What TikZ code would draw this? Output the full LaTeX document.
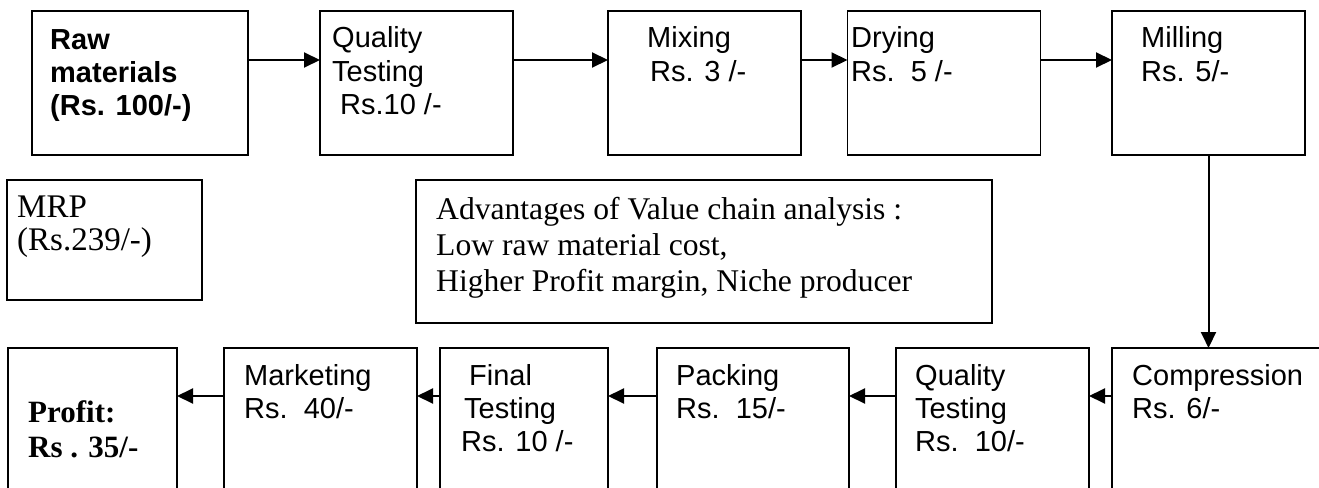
\documentclass[tikz,border=0pt]{standalone}
\usepackage{fontspec}
\setmainfont{Liberation Serif}
\setsansfont{Liberation Sans}
\usetikzlibrary{arrows.meta}
\newcommand{\lns}[1]{\begin{tabular}[t]{@{}l@{}}#1\end{tabular}}
\tikzset{
  box/.style={draw=black, line width=1.6pt, rectangle, inner sep=0pt, outer sep=0pt},
  flow/.style={line width=2pt, -{Triangle[length=16pt,width=15pt]}},
  atxt/.style={anchor=base west, inner sep=0pt, font=\sffamily\fontsize{29}{33.3}\selectfont},
  btxt/.style={anchor=base west, inner sep=0pt, font=\sffamily\bfseries\fontsize{29}{33.3}\selectfont},
  stxt/.style={anchor=base west, inner sep=0pt, font=\fontsize{31.6}{36.4}\selectfont},
}
\begin{document}
\begin{tikzpicture}[x=1pt, y=-1pt]
\useasboundingbox (0,0) rectangle (1319,487);
\clip (0,0) rectangle (1319,487);
% top row
\node[box, minimum width=216pt, minimum height=144pt] (raw)  at (140,83) {};
\node[box, minimum width=193pt, minimum height=144pt] (qt1)  at (416.5,83) {};
\node[box, minimum width=193pt, minimum height=144pt] (mix)  at (704.5,83) {};
\node[box, minimum width=193pt, minimum height=144pt] (dry)  at (944,83) {};
\node[box, minimum width=193pt, minimum height=144pt] (mill) at (1208.5,83) {};
% middle
\node[box, minimum width=195pt, minimum height=120pt] (mrp) at (104.5,240) {};
\node[box, minimum width=576pt, minimum height=143pt] (adv) at (704,251.5) {};
% bottom row
\node[box, minimum width=169pt, minimum height=192pt] (profit) at (92.5,444) {};
\node[box, minimum width=193pt, minimum height=192pt] (mkt)    at (320.5,444) {};
\node[box, minimum width=168pt, minimum height=192pt] (final)  at (524,444) {};
\node[box, minimum width=192pt, minimum height=192pt] (pack)   at (753,444) {};
\node[box, minimum width=193pt, minimum height=192pt] (qt2)    at (992.5,444) {};
\node[box, minimum width=248pt, minimum height=192pt] (comp)   at (1236,444) {};
% texts
\node[btxt] (traw) at (50,49) {\lns{Raw\\materials\\(Rs. 100/-)}};
\node[atxt] (tqt1) at (332,48) {\lns{Quality\\Testing\\\hspace{8pt}Rs.10 /-}};
\node[atxt] (tmix) at (647,48) {\lns{Mixing\\\hspace{3pt}Rs. 3 /-}};
\node[atxt] (tdry) at (851,48) {\lns{Drying\\Rs.\ \ 5 /-}};
\node[atxt] (tmill) at (1141,48) {\lns{Milling\\Rs. 5/-}};
\node[stxt, font=\fontsize{33}{33}\selectfont] (tmrp) at (17,217) {\lns{MRP\\(Rs.239/-)}};
\node[stxt] (tadv) at (436,219)
  {\lns{Advantages of Value chain analysis :\\Low raw material cost,\\Higher Profit margin, Niche producer}};
\node[stxt, font=\bfseries\fontsize{31}{35}\selectfont] (tprofit) at (28,422)
  {\lns{Profit:\\Rs . 35/-}};
\node[atxt] (tmkt) at (244,385) {\lns{Marketing\\Rs.\ \ 40/-}};
\node[atxt] (tfinal) at (461,385) {\lns{\hspace{8pt}Final\\\hspace{3pt}Testing\\Rs. 10 /-}};
\node[atxt] (tpack) at (676,385) {\lns{Packing\\Rs.\ \ 15/-}};
\node[atxt] (tqt2) at (915,385) {\lns{Quality\\Testing\\Rs.\ \ 10/-}};
\node[atxt] (tcomp) at (1132,385) {\lns{Compression\\Rs. 6/-}};
% arrows
\draw[flow] ([yshift=-49pt]raw.north east) -- ([yshift=-49pt]qt1.north west);
\draw[flow] ([yshift=-49pt]qt1.north east) -- ([yshift=-49pt]mix.north west);
\draw[flow] ([yshift=-49pt]mix.north east) -- ([yshift=-49pt]dry.north west);
\draw[flow] ([yshift=-49pt]dry.north east) -- ([yshift=-49pt]mill.north west);
\draw[flow] (mill.south) -- (mill.south |- comp.north);
\draw[flow] ([yshift=-48pt]comp.north west) -- ([yshift=-48pt]qt2.north east);
\draw[flow] ([yshift=-48pt]qt2.north west) -- ([yshift=-48pt]pack.north east);
\draw[flow] ([yshift=-48pt]pack.north west) -- ([yshift=-48pt]final.north east);
\draw[flow] ([yshift=-48pt]final.north west) -- ([yshift=-48pt]mkt.north east);
\draw[flow] ([yshift=-48pt]mkt.north west) -- ([yshift=-48pt]profit.north east);
\end{tikzpicture}
\end{document}
